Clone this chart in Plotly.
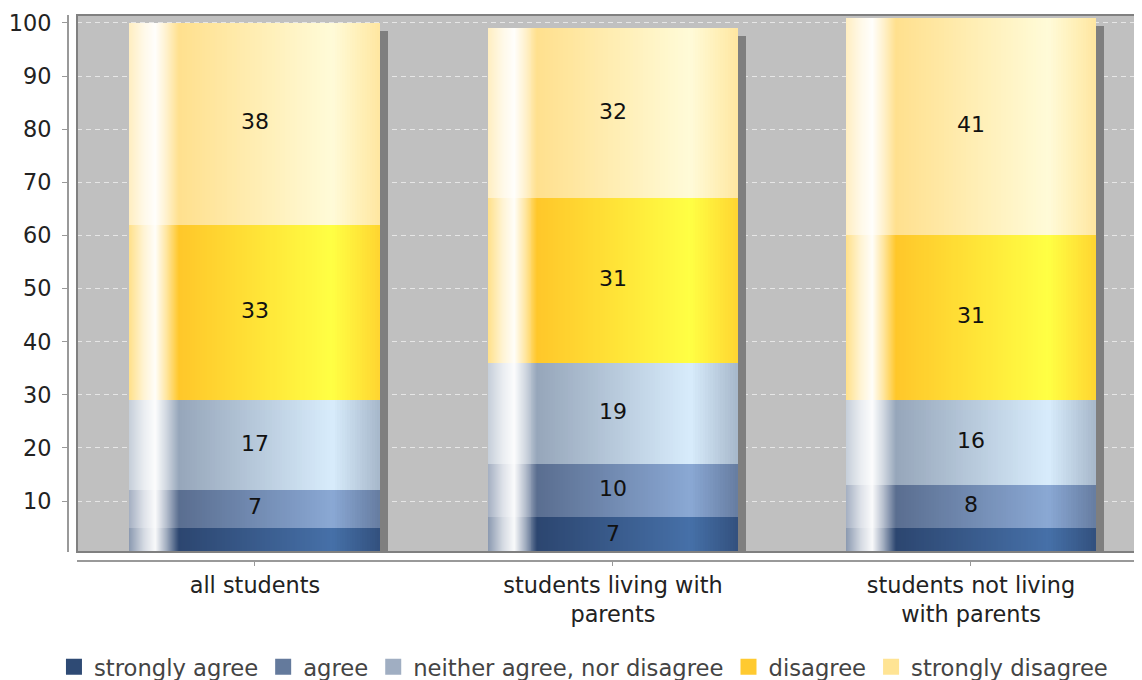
import plotly.graph_objects as go

# ---------------- data ----------------
categories = ["all students", "students living with<br>parents", "students not living<br>with parents"]
series_names = ["strongly agree", "agree", "neither agree, nor disagree", "disagree", "strongly disagree"]
strongly_agree = [5, 7, 5]
agree = [7, 10, 8]
neither = [17, 19, 16]
disagree = [33, 31, 31]
strongly_disagree = [38, 32, 41]
y_ticks = [10, 20, 30, 40, 50, 60, 70, 80, 90, 100]

series_values = [strongly_agree, agree, neither, disagree, strongly_disagree]

# ---------------- styles ----------------
base_colors = ["#2c4670", "#5a6e90", "#96a6ba", "#ffc72a", "#ffe08e"]
peak_colors = ["#4670a8", "#8aa8d4", "#d8ecfc", "#ffff44", "#fffbd8"]
legend_colors = ["#2e4a74", "#647a9c", "#a0aec2", "#ffca30", "#ffe494"]
FONT = "DejaVu Sans"
BAR_W = 0.698
SHADOW_DX = 0.022
SHADOW_DY = 1.5
LABEL_MIN = 6


def hex2rgb(h):
    h = h.lstrip("#")
    return [int(h[i:i + 2], 16) for i in (0, 2, 4)]


def mix(a, b, f):
    return [a[i] + (b[i] - a[i]) * f for i in range(3)]


def grad_color(base_hex, peak_hex, t):
    base = hex2rgb(base_hex)
    peak = hex2rgb(peak_hex)
    white = [255, 255, 255]
    stops = [
        (0.0, mix(base, white, 0.45)),
        (0.06, mix(base, white, 0.8)),
        (0.105, mix(base, white, 0.97)),
        (0.15, mix(base, white, 0.55)),
        (0.2, base),
        (0.81, peak),
        (1.0, mix(base, peak, 0.25)),
    ]
    for k in range(len(stops) - 1):
        t0, c0 = stops[k]
        t1, c1 = stops[k + 1]
        if t0 <= t <= t1:
            f = (t - t0) / (t1 - t0)
            c = mix(c0, c1, f)
            return "rgb(%d,%d,%d)" % tuple(round(v) for v in c)
    return base_hex


# slice edges (fractions of the bar width): fine at the highlight, coarser elsewhere
edges = [i * 0.004 for i in range(56)]          # 0 .. 0.22
k = 1
while edges[-1] < 1.0 - 1e-9:
    edges.append(min(1.0, 0.22 + k * 0.01))
    k += 1

fig = go.Figure()

n_cat = len(categories)
totals = [sum(s[i] for s in series_values) for i in range(n_cat)]
bases = []
running = [0] * n_cat
for s in series_values:
    bases.append(list(running))
    running = [running[i] + s[i] for i in range(n_cat)]

# shadow
fig.add_trace(go.Bar(
    x=categories, y=totals, base=[-SHADOW_DY] * n_cat,
    width=BAR_W, offset=-BAR_W / 2 + SHADOW_DX,
    marker=dict(color="#7f7f7f", line=dict(width=0)),
    showlegend=False, hoverinfo="skip",
))

# gradient slices: one trace per slice holding every segment of every bar
flat_x, flat_y, flat_base, flat_series = [], [], [], []
for si, vals in enumerate(series_values):
    for i in range(n_cat):
        flat_x.append(categories[i])
        flat_y.append(vals[i])
        flat_base.append(bases[si][i])
        flat_series.append(si)

n_sl = len(edges) - 1
for j in range(n_sl):
    t = (edges[j] + edges[j + 1]) / 2
    w = (edges[j + 1] - edges[j]) * BAR_W
    if j < n_sl - 1:
        w *= 1.5
    fig.add_trace(go.Bar(
        x=flat_x, y=flat_y, base=flat_base,
        width=w, offset=-BAR_W / 2 + edges[j] * BAR_W,
        marker=dict(color=[grad_color(base_colors[s], peak_colors[s], t) for s in flat_series],
                    line=dict(width=0)),
        showlegend=False, hoverinfo="skip",
    ))

# value labels
for si, vals in enumerate(series_values):
    fig.add_trace(go.Scatter(
        x=categories,
        y=[bases[si][i] + vals[i] / 2 for i in range(n_cat)],
        text=[str(v) if v >= LABEL_MIN else "" for v in vals],
        mode="text",
        textfont=dict(family=FONT, size=22, color="#111111"),
        showlegend=False, hoverinfo="skip",
    ))

# legend entries
for si, name in enumerate(series_names):
    fig.add_trace(go.Scatter(
        x=[None], y=[None], mode="markers", name=name,
        marker=dict(symbol="square", size=18, color=legend_colors[si]),
    ))

# note: the page body has an 8px margin, so all offsets below are 8px less
fig.update_layout(
    width=1142, height=680,
    margin=dict(l=60, r=0, t=7, b=127, autoexpand=False),
    paper_bgcolor="white",
    plot_bgcolor="#c0c0c0",
    barmode="overlay",
    bargap=0,
    font=dict(family=FONT, color="#333333"),
    xaxis=dict(
        domain=[9 / 1082, 1],
        range=[-0.497, 2.5],
        anchor="free", position=0,
        automargin=False,
        showgrid=False, zeroline=False,
        showline=True, linecolor="#999999", linewidth=2,
        ticks="outside", ticklen=4, tickcolor="#999999",
        tickfont=dict(family=FONT, size=22.4, color="#222222"),
        fixedrange=True,
    ),
    yaxis=dict(
        domain=[9 / 546, 1],
        range=[0.4, 101.5],
        anchor="free", position=0,
        automargin=False,
        tickvals=y_ticks,
        showgrid=True, gridcolor="#e6e6e6", gridwidth=1, griddash="5px,4px",
        zeroline=False,
        showline=True, linecolor="#999999", linewidth=2,
        ticks="outside", ticklen=5, tickcolor="#999999",
        tickfont=dict(family=FONT, size=22.4, color="#222222"),
        ticklabelstandoff=6,
        fixedrange=True,
    ),
    legend=dict(
        orientation="h",
        x=0.4764, xanchor="center",
        y=-0.194, yanchor="middle",
        font=dict(family=FONT, size=22.7, color="#444444"),
        itemwidth=30,
        tracegroupgap=0,
    ),
    shapes=[dict(
        type="rect", xref="x domain", yref="y domain",
        x0=0, x1=1, y0=0, y1=1,
        line=dict(color="#808080", width=2), layer="above",
    )],
)

fig.write_html("out.html")
